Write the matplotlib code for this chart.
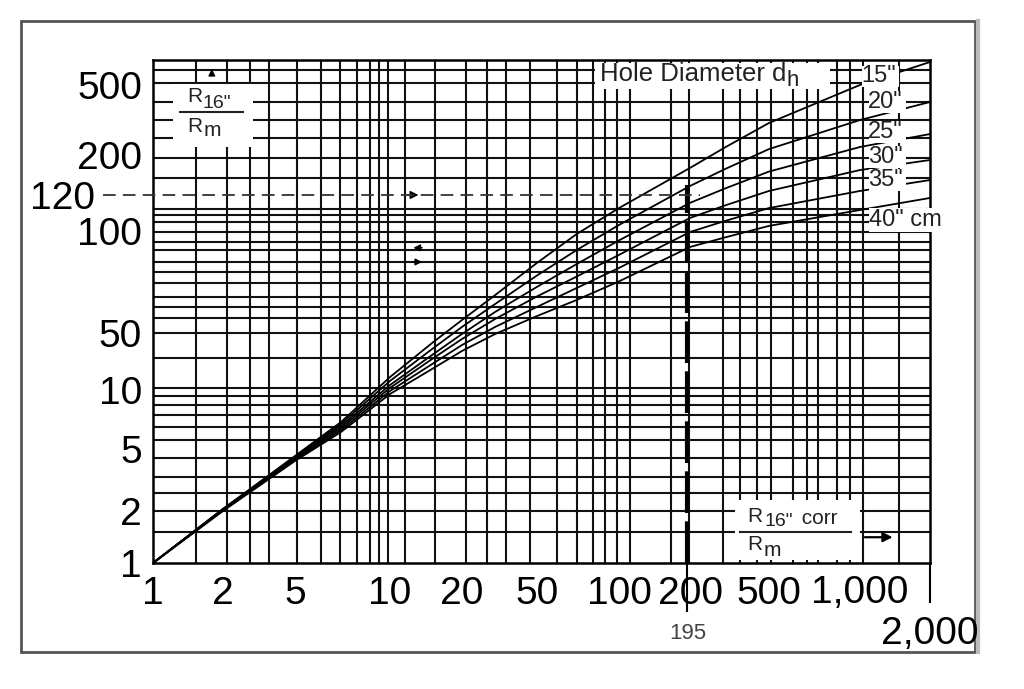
import numpy as np
import matplotlib
matplotlib.use("Agg")
import matplotlib.pyplot as plt
from matplotlib.patches import Rectangle
from matplotlib.lines import Line2D
from matplotlib.ticker import NullLocator

plt.rcParams['font.family'] = ['Liberation Sans', 'DejaVu Sans']

# ---- data ----
x_pts = [1, 2, 5, 7, 10, 15, 20, 30, 50, 70, 100, 200, 300, 500, 1000, 2000]
d15 = [1, 2.06, 4.51, 6.87, 14.4, 37.7, 54.6, 64.7, 80.5, 98, 112.3, 169.5, 220.7, 304, 500, 675]
d20 = [1, 2.06, 4.44, 6.71, 12.9, 31.8, 52.1, 60.9, 73.9, 87.9, 103.1, 134.6, 167, 216, 316, 400]
d25 = [1, 2.06, 4.38, 6.55, 11.5, 26.9, 48.6, 57.7, 68.4, 79.9, 93.8, 115.3, 130.3, 161.8, 222, 263]
d30 = [1, 2.03, 4.31, 6.40, 10.6, 24.0, 42.2, 55.0, 64.1, 73.4, 85.0, 106.8, 113.8, 126.3, 165, 187.5]
d35 = [1, 2.03, 4.25, 6.25, 9.88, 20.8, 35.6, 52.1, 59.7, 67.9, 77.8, 99.3, 105.2, 112.3, 126.3, 145.2]
d40 = [1, 2.0, 4.19, 6.11, 9.54, 18.1, 30.1, 48.6, 56.1, 62.6, 71.0, 89.7, 95.7, 102.6, 111.2, 118.2]
curves = [d15, d20, d25, d30, d35, d40]

xticks = [1, 2, 5, 10, 20, 50, 100, 195, 200, 500, 1000, 2000]
xlabels = ['1', '2', '5', '10', '20', '50', '100', '195', '200', '500', '1,000', '2,000']
yticks = [1, 2, 5, 10, 50, 100, 120, 200, 500]
ylabels = ['1', '2', '5', '10', '50', '100', '120', '200', '500']

# graph paper lines (uneven, as printed)
grid_x = [1.53, 2.10, 2.82, 3.59, 5.07, 6.04, 6.94, 7.86, 8.64, 9.23, 9.85, 11.6, 15.4,
          21.0, 27.1, 34.2, 45.9, 59.2, 70.1, 80.3, 88.8, 98.3, 111.3, 166.2, 198,
          293, 357, 435, 508, 600, 668, 726, 839, 927, 1030, 1471]
grid_y = [1.51, 2, 2.61, 3.31, 4.38, 5.56, 6.47, 7.46, 8.38, 9.32, 10.6, 24.7, 50,
          55.4, 59.7, 63.9, 70.2, 75.7, 81.0, 87.9, 92.8, 99.3, 104.7, 108.4, 111.8,
          149, 192, 250, 316, 400, 513, 608]

# the printed scale is not a clean log scale: labels sit at these spots
x_anchor = [0.5, 1, 2, 5, 10, 20, 50, 100, 200, 500, 1000, 2000, 4000]
x_anchor_pos = [-70, 0, 70, 142, 237, 309, 384, 466, 537, 616, 707, 777, 847]
y_anchor = [0.5, 1, 2, 5, 10, 50, 100, 120, 200, 500, 1000]
y_anchor_pos = [-52, 0, 52, 114, 173, 230, 332, 368, 408, 478, 531]


def paper_scale(vals, pos):
    lv = np.log10(vals)

    def fwd(v):
        v = np.clip(np.asarray(v, dtype=float), 1e-3, None)
        return np.interp(np.log10(v), lv, pos)

    def inv(p):
        return 10 ** np.interp(np.asarray(p, dtype=float), pos, lv)
    return fwd, inv


W, H = 1024, 689


def fig_pt(px, py):
    return px / W, 1 - py / H


fig = plt.figure(figsize=(W / 100, H / 100), dpi=100)
ax = fig.add_axes([153 / W, 1 - 563 / H, 777 / W, 503 / H])
ax.set_xscale('function', functions=paper_scale(x_anchor, x_anchor_pos))
ax.set_yscale('function', functions=paper_scale(y_anchor, y_anchor_pos))

for gx in grid_x:
    ax.axvline(gx, color='#111111', lw=1.5, zorder=1)
for gy in grid_y:
    ax.axhline(gy, color='#111111', lw=1.5, zorder=1)

for d in curves:
    ax.plot(x_pts, d, color='black', lw=1.3, zorder=3)

# worked example: 195 -> 120
ax.plot([195, 195], [1, 136], color='black', lw=3, dashes=(10, 2), zorder=4)
ax.plot([0.61, 225], [120, 120], color='#333333', lw=1.3, dashes=(7, 4),
        clip_on=False, zorder=4)
ax.annotate('', xy=(13.5, 120), xytext=(11.5, 120),
            arrowprops=dict(arrowstyle='-|>', color='black', lw=1, mutation_scale=12))
ax.annotate('', xy=(12.2, 89.2), xytext=(14, 89.2),
            arrowprops=dict(arrowstyle='-|>', color='black', lw=1, mutation_scale=10))
ax.annotate('', xy=(14, 81), xytext=(12.2, 81),
            arrowprops=dict(arrowstyle='-|>', color='black', lw=1, mutation_scale=10))
ax.annotate('', xy=(1.79, 640), xytext=(1.79, 560),
            arrowprops=dict(arrowstyle='-|>', color='black', lw=1, mutation_scale=10))
ax.annotate('', xy=(1420, 1.41), xytext=(1020, 1.41), annotation_clip=False,
            arrowprops=dict(arrowstyle='-|>', color='black', lw=1.6, mutation_scale=14),
            zorder=7)

ax.set_xlim(1, 2000)
ax.set_ylim(1, 693)
ax.set_xticks(xticks)
ax.set_xticklabels(xlabels)
ax.set_yticks(yticks)
ax.set_yticklabels(ylabels)
ax.xaxis.set_minor_locator(NullLocator())
ax.yaxis.set_minor_locator(NullLocator())
ax.tick_params(axis='both', length=0, width=1.5, labelsize=28, colors='black')
ax.tick_params(axis='x', pad=9)
ax.tick_params(axis='y', pad=8)
for s in ax.spines.values():
    s.set_linewidth(1.8)

# two ticks reach below the axis: the 195 example and the 2,000 end mark
for t, v in zip(ax.xaxis.get_major_ticks(), xticks):
    if v == 195:
        t.set_pad(43)
        t.tick1line.set_markersize(35)
        t.tick1line.set_markeredgewidth(1.5)
        t.tick1line.set_color('#222222')
        t.label1.set_fontsize(16)
        t.label1.set_color('#444444')
    if v == 2000:
        t.set_pad(38)
        t.tick1line.set_markersize(29)
        t.tick1line.set_markeredgewidth(1.5)
        t.tick1line.set_color('#222222')
for t, v in zip(ax.yaxis.get_major_ticks(), yticks):
    if v == 120:
        t.set_pad(42)
        t.tick1line.set_markersize(0)


def white_box(x0, y0, x1, y1):
    a, b = fig_pt(x0, y1)
    fig.add_artist(Rectangle((a, b), (x1 - x0) / W, (y1 - y0) / H,
                             transform=fig.transFigure, facecolor='white',
                             edgecolor='none', zorder=5))


def label(px, py, s, size=16, **kw):
    fig.text(*fig_pt(px, py), s, fontsize=size, va='center', ha='left',
             color='#222222', zorder=6, **kw)


def hline(x0, x1, py, lw=1.5):
    a, b = fig_pt(x0, py)
    c, _ = fig_pt(x1, py)
    fig.add_artist(Line2D([a, c], [b, b], transform=fig.transFigure,
                          color='#222222', lw=lw, zorder=6))


# top-left fraction R16"/Rm
white_box(173, 84, 253, 147)
label(187, 97, 'R', 15)
label(203, 103, '16"', 14)
hline(180, 243, 112)
label(187, 126, 'R', 15)
label(204, 131, 'm', 15)

# hole diameter title
white_box(595, 63, 830, 89)
label(600, 74, 'Hole Diameter d', 18.5)
label(787, 81, 'h', 16)

# curve labels
white_box(862, 66, 899, 87)
label(861, 76, '15"', 17)
for py, s in zip([102, 132, 157, 180], ['20"', '25"', '30"', '35"']):
    white_box(869, py - 11, 906, py + 11)
    label(868, py, s, 17)
white_box(869, 208, 954, 232)
label(869, 220, '40" cm', 17)

# bottom-right fraction R16" corr / Rm
white_box(735, 500, 860, 560)
label(747, 516, 'R', 15)
label(764, 521, '16"', 14)
label(796, 519, ' corr', 15)
hline(740, 851, 532)
label(747, 544, 'R', 15)
label(764, 550, 'm', 15)

# outer frame
fig.add_artist(Rectangle((21 / W, 1 - 652 / H), 954 / W, 631 / H,
                         transform=fig.transFigure, facecolor='none',
                         edgecolor='#555555', lw=2, zorder=0))
fig.add_artist(Line2D([978 / W, 978 / W], [1 - 652 / H, 1 - 21 / H],
                      transform=fig.transFigure, color='#bbbbbb', lw=3, zorder=0))

fig.savefig('out.png', dpi=100)
